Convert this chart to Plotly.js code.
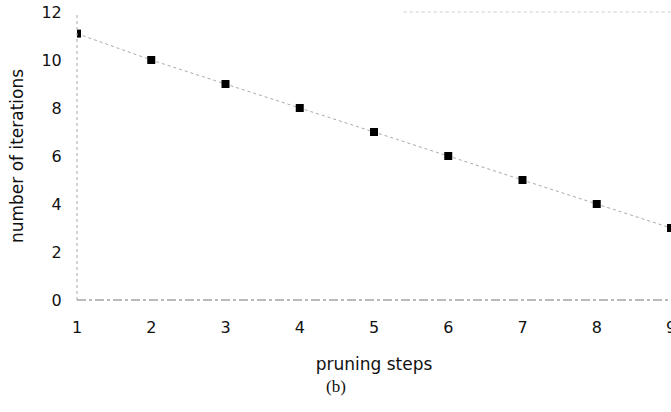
<!DOCTYPE html>
<html><head><meta charset="utf-8">
<script src="https://cdn.plot.ly/plotly-3.0.1.min.js"></script>
<style>html,body{margin:0;padding:0;background:#fff}#chart{width:671px;height:412px}</style>
</head><body><div id="chart"></div>
<script>
const pruningSteps = [1, 2, 3, 4, 5, 6, 7, 8, 9];
const iterations = [11.1, 10, 9, 8, 7, 6, 5, 4, 3];
const xTicks = [1, 2, 3, 4, 5, 6, 7, 8, 9];
const yTicks = [0, 2, 4, 6, 8, 10, 12];

const tickFnt = {family: 'DejaVu Sans, Verdana, sans-serif', size: 16, color: '#111'};
const titleFnt = {family: 'DejaVu Sans, Verdana, sans-serif', size: 17, color: '#111'};
const trace = {
  x: pruningSteps, y: iterations, type: 'scatter', mode: 'lines+markers',
  line: {color: '#aaa', width: 1, dash: 'dot'},
  marker: {symbol: 'square', size: 8, color: '#000'},
  cliponaxis: true, showlegend: false
};
const layout = {
  width: 671, height: 412,
  margin: {l: 77, r: 0, t: 12, b: 112},
  paper_bgcolor: '#fff', plot_bgcolor: '#fff',
  font: tickFnt,
  xaxis: {range: [1, 9], tickvals: xTicks, showgrid: false, zeroline: false, showline: false,
          ticks: 'outside', ticklen: 13, tickcolor: 'rgba(0,0,0,0)', tickfont: tickFnt,
          ticklabeloverflow: 'allow',
          title: {text: 'pruning steps', font: titleFnt, standoff: 21}},
  yaxis: {range: [0, 12], tickvals: yTicks, showgrid: false, zeroline: false, showline: false,
          ticks: 'outside', ticklen: 11, tickcolor: 'rgba(0,0,0,0)', tickfont: tickFnt,
          title: {text: 'number of iterations', font: titleFnt, standoff: 13}},
  shapes: [
    {type: 'line', xref: 'paper', yref: 'paper', x0: 0, x1: 0, y0: 0, y1: 1, line: {color: '#aaa', width: 1, dash: 'dot'}},
    {type: 'line', xref: 'paper', yref: 'paper', x0: 0, x1: 1, y0: 0, y1: 0, line: {color: '#777', width: 1, dash: 'dashdot'}},
    {type: 'line', xref: 'paper', yref: 'paper', x0: 0.55, x1: 1, y0: 1, y1: 1, line: {color: '#ccc', width: 1, dash: 'dot'}}
  ],
  annotations: [
    {text: '(b)', xref: 'paper', yref: 'paper', x: 0.436, y: -0.302, xanchor: 'center', yanchor: 'middle',
     showarrow: false, font: {family: 'Liberation Serif, Times New Roman, serif', size: 17, color: '#111'}}
  ]
};
Plotly.newPlot('chart', [trace], layout, {staticPlot: true, displayModeBar: false});
</script></body></html>
